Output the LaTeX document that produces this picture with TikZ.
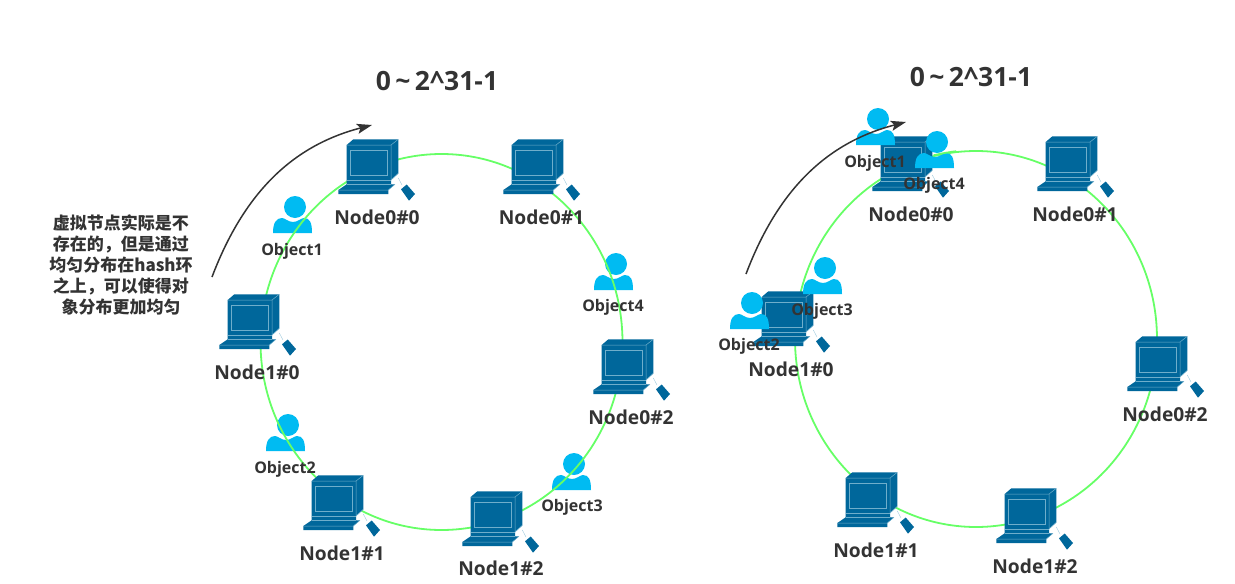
\documentclass[tikz,border=0pt]{standalone}
\usepackage{fontspec}
\setmainfont{Open Sans}
\newfontfamily\cjk{Noto Sans CJK SC}
\usetikzlibrary{arrows.meta,shapes.geometric,positioning,calc}
\definecolor{hostblue}{HTML}{00679B}
\definecolor{hostline}{HTML}{6FAECB}
\definecolor{userblue}{HTML}{00BBF2}
\definecolor{ringgreen}{HTML}{66FF66}
\definecolor{inkgray}{HTML}{333333}
\tikzset{
	ring/.style={
		ellipse,
		draw=ringgreen,
		line width=1.8pt,
		inner sep=0pt,
		minimum width=362pt,
		minimum height=376pt,
	},
	ringpart/.style={
		draw=ringgreen,
		line width=1.8pt,
	},
	hostlabel/.style={
		font=\bfseries\fontsize{19.2}{21}\selectfont,
		text=inkgray,
		inner sep=0pt,
	},
	userlabel/.style={
		font=\bfseries\fontsize{16}{18}\selectfont,
		text=inkgray,
		inner sep=0pt,
	},
	titlelabel/.style={
		font=\bfseries\fontsize{26.5}{28}\selectfont,
		text=inkgray,
		inner sep=0pt,
	},
	notelabel/.style={
		font=\cjk\bfseries\fontsize{17}{21}\selectfont,
		text=inkgray,
		align=center,
		inner sep=0pt,
	},
	sweep/.style={
		-{Stealth[length=15pt,width=10pt,inset=3pt]},
		draw=inkgray,
		line width=1.5pt,
	},
	computer/.pic={
		% case and keyboard, in reference pixels from the corner of the pic
		\fill[hostblue] (16.7,15) -- (23.3,9.3) -- (68.3,9.3) -- (68.3,43.3) -- (61,50) -- (61,54.3) -- (65,54.3) -- (58.3,60) -- (58.3,64) -- (8.3,64) -- (8.3,60) -- (16.7,54.3) -- cycle;
		\draw[hostline,line width=.5pt] (16.7,15) -- (61,15) -- (68.3,9.3);
		\draw[hostline,line width=.5pt] (61,15) -- (61,50) -- (68.3,43.3);
		\draw[hostline,line width=.5pt] (20,20) rectangle (57.5,45);
		\draw[hostline,line width=.5pt] (16.7,50) -- (61,50);
		\draw[hostline,line width=.5pt] (16.7,54.3) -- (61,54.3);
		\draw[hostline,line width=.5pt] (8.3,60) -- (58.3,60) -- (65,54.3);
		\draw[hostline!70,line width=.4pt] (68.3,48) -- (72,55);
		\fill[hostblue] (71,59.3) -- (76.7,54.5) -- (85,64) -- (79,70.7) -- cycle;
	},
	person/.pic={
		% origin on the centre of the head
		\fill[userblue] (0,0) circle (11pt);
		\fill[userblue] (-22,26) .. controls (-22,16) and (-19,11) .. (-13,11) .. controls (-10,11) and (-7,15) .. (-2,15) .. controls (3,15) and (6,11) .. (9,11) .. controls (15,11) and (17,16) .. (17,26) -- cycle;
	},
}
\begin{document}
\begin{tikzpicture}[x=1pt,y=-1pt]
	\useasboundingbox (0,0) rectangle (1235,584);

	% left ring
	\pic at (295,207) {person};
	\pic at (616,264) {person};
	\pic at (288,425) {person};
	\pic at (574,464) {person};

	\node [ring] (ringA) at (441.5,342) {};

	\pic at (330,130) {computer};
	\pic at (495,130) {computer};
	\pic at (211,285) {computer};
	\pic at (585,330) {computer};
	\pic at (295,466) {computer};
	\pic at (454,482) {computer};

	\node [hostlabel] (A00) at (377,217) {Node0\#0};
	\node [hostlabel] (A01) at (541.5,217) {Node0\#1};
	\node [hostlabel] (A10) at (257,372) {Node1\#0};
	\node [hostlabel] (A02) at (631,417) {Node0\#2};
	\node [hostlabel] (A11) at (342,553) {Node1\#1};
	\node [hostlabel] (A12) at (501,568) {Node1\#2};

	\node [userlabel] (AO1) at (292,251.5) {Object1};
	\node [userlabel] (AO4) at (613,307.5) {Object4};
	\node [userlabel] (AO2) at (285,469.5) {Object2};
	\node [userlabel] (AO3) at (572,507.5) {Object3};

	\node [titlelabel] (titleA) at (437,81) {0\,\textasciitilde\,2\textasciicircum 31-1};
	\coordinate (startA) at (212,277);
	\coordinate (endA) at (372,125);
	\draw [sweep] (startA) .. controls (245,190) and (295,145) .. (endA);

	\node [notelabel] (note) at (121,265) {虚拟节点实际是不\\存在的，但是通过\\均匀分布在hash环\\之上，可以使得对\\象分布更加均匀};

	% right ring
	\node [ring] (ringB) at (976,339) {};

	\pic at (864,127) {computer};
	\pic at (1029,127) {computer};
	\pic at (745,282) {computer};
	\pic at (1119,327) {computer};
	\pic at (829,463) {computer};
	\pic at (988,479) {computer};

	\pic at (878,119) {person};
	\pic at (937,142) {person};
	\pic at (825,268) {person};
	\pic at (752,303) {person};

	\draw [ringpart] (ringB.103) to [bend left=3] (ringB.96);

	\node [hostlabel] (B00) at (911,214) {Node0\#0};
	\node [hostlabel] (B01) at (1075,214) {Node0\#1};
	\node [hostlabel] (B10) at (791,369) {Node1\#0};
	\node [hostlabel] (B02) at (1165,414) {Node0\#2};
	\node [hostlabel] (B11) at (876,550) {Node1\#1};
	\node [hostlabel] (B12) at (1035,566) {Node1\#2};

	\node [userlabel] (BO1) at (875,163.5) {Object1};
	\node [userlabel] (BO4) at (934,185.5) {Object4};
	\node [userlabel] (BO3) at (822,311.5) {Object3};
	\node [userlabel] (BO2) at (749,346.5) {Object2};

	\node [titlelabel] (titleB) at (971,77) {0\,\textasciitilde\,2\textasciicircum 31-1};
	\coordinate (startB) at (746,274);
	\coordinate (endB) at (906,122);
	\draw [sweep] (startB) .. controls (779,187) and (829,142) .. (endB);
\end{tikzpicture}
\end{document}
